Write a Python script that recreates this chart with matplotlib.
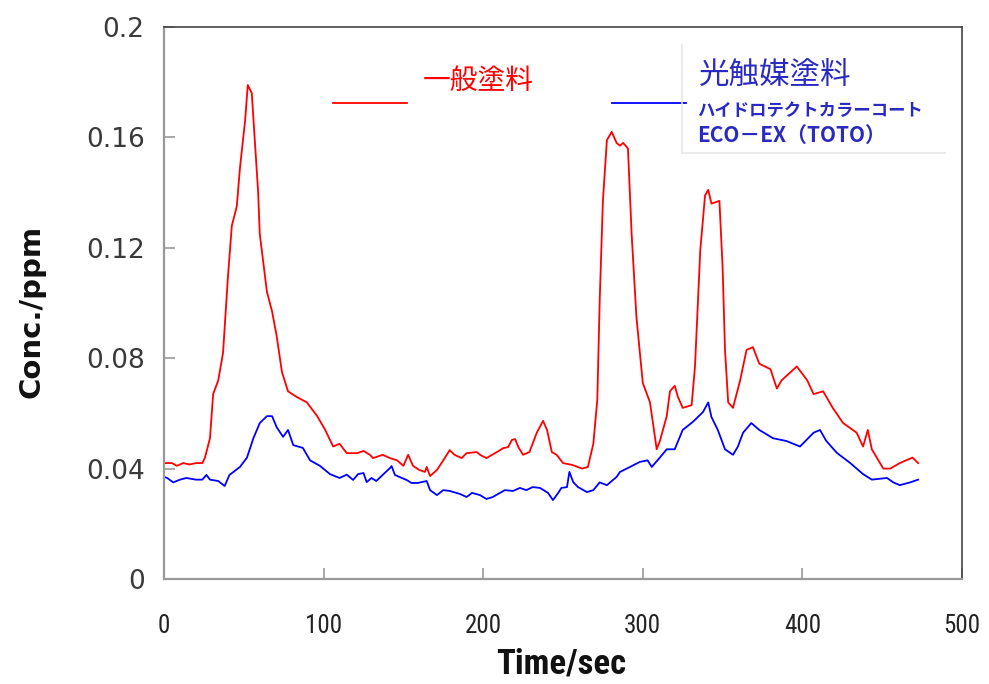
import matplotlib
matplotlib.use("Agg")
import matplotlib.pyplot as plt
from matplotlib import font_manager

# --- data -----------------------------------------------------------------
red_time = [0, 5, 8, 12, 16, 20, 24, 25.7, 28.8, 30.8, 34, 37, 40, 42.5, 45.6,
            47.6, 50.8, 52.5, 55, 57, 59, 60, 64.5, 67.7, 70.6, 73.9, 77.7, 83,
            89.5, 96, 101, 106, 110, 114.5, 121, 125, 129, 131, 137, 141.6, 146,
            150, 153, 156, 160, 163.5, 164.6, 166.7, 171, 175, 179, 182, 186.5,
            189.6, 196, 198, 202, 208.6, 212.5, 215.6, 218, 220, 222, 225, 229,
            233.5, 237.5, 240, 243, 246, 250, 256, 262, 265.6, 269, 271.5, 273,
            275, 277.5, 280.5, 283.6, 285.7, 287.7, 290.7, 293, 296, 300, 304.5,
            308.7, 310.7, 315, 317, 320, 322, 325, 330.6, 332.7, 336, 339, 341,
            343, 348, 350, 351.5, 353.5, 356.5, 361, 365, 369, 373, 380, 384, 387,
            396.5, 403, 407, 413, 419, 425.5, 434, 438, 441, 443.5, 450.7, 455,
            461, 469, 472.5]
red_conc = [0.042, 0.042, 0.041, 0.042, 0.0415, 0.042, 0.042, 0.044, 0.051, 0.067,
            0.072, 0.082, 0.109, 0.128, 0.135, 0.149, 0.166, 0.179, 0.176, 0.158,
            0.140, 0.125, 0.104, 0.097, 0.088, 0.075, 0.068, 0.066, 0.064, 0.059,
            0.054, 0.048, 0.049, 0.0456, 0.0456, 0.0464, 0.045, 0.0438, 0.045,
            0.0438, 0.043, 0.041, 0.045, 0.041, 0.0395, 0.0388, 0.0406, 0.0373,
            0.0395, 0.043, 0.0467, 0.045, 0.0438, 0.0456, 0.046, 0.045, 0.0438,
            0.046, 0.0474, 0.0478, 0.0504, 0.0507, 0.0478, 0.045, 0.046, 0.0529,
            0.0573, 0.054, 0.046, 0.045, 0.042, 0.0413, 0.040, 0.0406, 0.049,
            0.065, 0.101, 0.137, 0.159, 0.162, 0.158, 0.157, 0.158, 0.156, 0.125,
            0.095, 0.071, 0.064, 0.047, 0.050, 0.059, 0.068, 0.070, 0.066, 0.062,
            0.063, 0.077, 0.119, 0.139, 0.141, 0.136, 0.137, 0.113, 0.083, 0.064,
            0.062, 0.072, 0.083, 0.084, 0.078, 0.076, 0.069, 0.072, 0.077, 0.072,
            0.067, 0.068, 0.062, 0.0565, 0.053, 0.048, 0.054, 0.047, 0.040, 0.040,
            0.042, 0.044, 0.042]

blue_time = [0, 2, 5.8, 10, 14, 20, 24, 26.6, 28.8, 34, 38, 41, 47.6, 52, 56, 60,
             64.5, 67.7, 70.6, 74.6, 77.7, 81, 87, 91.5, 97.7, 104, 110, 114.5,
             118.5, 121.6, 125, 127, 130, 133, 137, 141.6, 142.6, 144.7, 149, 152,
             155, 159, 164.6, 166.7, 171, 175, 179, 185.5, 189.6, 193, 198, 202,
             206, 210.5, 213.6, 218.7, 223, 227, 231, 235.6, 240.6, 243.7, 247,
             249, 252.5, 254, 256.4, 259.4, 265, 269, 273, 277.5, 283.6, 285.7,
             292, 298, 303, 305.6, 310.7, 315, 320, 325, 331.5, 337.7, 341, 343,
             347, 351.5, 356.5, 359.6, 362.8, 368, 373, 381.6, 390, 398.5, 407,
             411, 415, 421.6, 430, 438, 443.5, 453, 457, 461, 467.5, 472.5]
blue_conc = [0.037, 0.0366, 0.035, 0.036, 0.0366, 0.036, 0.036, 0.0377, 0.036,
             0.0355, 0.0337, 0.0377, 0.0406, 0.044, 0.051, 0.0565, 0.059, 0.059,
             0.055, 0.0515, 0.054, 0.0485, 0.0475, 0.043, 0.041, 0.038, 0.0366,
             0.0378, 0.0359, 0.038, 0.0384, 0.0351, 0.0366, 0.0355, 0.0377,
             0.0402, 0.0409, 0.0377, 0.0366, 0.0359, 0.0348, 0.0348, 0.0355,
             0.0322, 0.0304, 0.0322, 0.0319, 0.0308, 0.0297, 0.0312, 0.0304,
             0.029, 0.0297, 0.0312, 0.0322, 0.0319, 0.033, 0.0322, 0.0333, 0.033,
             0.0312, 0.0286, 0.0312, 0.033, 0.0333, 0.0388, 0.0351, 0.0333,
             0.0315, 0.0322, 0.035, 0.034, 0.037, 0.0388, 0.0406, 0.0424, 0.043,
             0.0406, 0.044, 0.047, 0.047, 0.054, 0.057, 0.0605, 0.064, 0.0587,
             0.054, 0.047, 0.045, 0.048, 0.053, 0.0565, 0.054, 0.051, 0.050,
             0.048, 0.053, 0.054, 0.050, 0.0457, 0.042, 0.038, 0.036, 0.0366,
             0.035, 0.034, 0.035, 0.036]

x_ticks = [0, 100, 200, 300, 400, 500]
y_ticks = [0, 0.04, 0.08, 0.12, 0.16, 0.2]
y_tick_labels = ["0", "0.04", "0.08", "0.12", "0.16", "0.2"]

label_red = "一般塗料"
label_blue = "光触媒塗料"
label_blue_sub1 = "ハイドロテクトカラーコート"
label_blue_sub2 = "ECO－EX（TOTO）"

# --- fonts ----------------------------------------------------------------
available = {f.name for f in font_manager.fontManager.ttflist}


def pick(*names):
    for n in names:
        if n in available:
            return n
    return "DejaVu Sans"


narrow = pick("Liberation Sans Narrow", "Roboto Condensed", "DejaVu Sans Condensed")
cjk = ["Noto Sans CJK JP", "DejaVu Sans"]

# --- figure ---------------------------------------------------------------
W, H = 989, 684
X0, X1, Y0, Y1 = 164, 962, 579, 27   # pixel frame of the plotting area

fig = plt.figure(figsize=(W / 100, H / 100), dpi=100)
ax = fig.add_axes([X0 / W, 1 - Y0 / H, (X1 - X0) / W, (Y0 - Y1) / H])

ax.plot(red_time, red_conc, color="#ff0000", lw=1.3, solid_joinstyle="round")
ax.plot(blue_time, blue_conc, color="#0000ff", lw=1.3, solid_joinstyle="round")

ax.set_xlim(0, 500)
ax.set_ylim(0, 0.2)
ax.set_xticks(x_ticks)
ax.set_xticklabels([str(v) for v in x_ticks], fontfamily=narrow, fontsize=18,
                   color="#222222")
ax.set_yticks(y_ticks)
ax.set_yticklabels(y_tick_labels, fontfamily="DejaVu Sans", fontsize=19,
                   color="#3a3a3a")
ax.tick_params(axis="both", direction="in", length=8, width=1.2, color="#999999")
ax.tick_params(axis="x", pad=25)
ax.tick_params(axis="y", pad=14)

for side in ("left", "bottom"):
    ax.spines[side].set_color("#999999")
    ax.spines[side].set_linewidth(1.6)
for side in ("top", "right"):
    ax.spines[side].set_color("#444444")
    ax.spines[side].set_linewidth(1.2)


def fx(px):
    return (px - X0) / (X1 - X0)


def fy(py):
    return (Y0 - py) / (Y0 - Y1)


ax.set_xlabel("Time/sec", fontfamily=narrow, fontweight="bold", fontsize=25,
              color="#111111")
ax.xaxis.set_label_coords(fx(561), fy(648))
ax.set_ylabel("Conc./ppm", fontfamily="DejaVu Sans", fontweight="bold",
              fontsize=21, color="#111111")
ax.yaxis.set_label_coords(fx(46), fy(311))

# --- legend keys and captions ---------------------------------------------
ax.plot([fx(333), fx(407)], [fy(102.5)] * 2, transform=ax.transAxes,
        color="#ff0000", lw=1.3, clip_on=False)
ax.plot([fx(612), fx(686)], [fy(102.5)] * 2, transform=ax.transAxes,
        color="#0000ff", lw=1.3, clip_on=False)

# faint outline of the caption box
ax.plot([fx(682), fx(682), fx(945)], [fy(45), fy(153), fy(153)],
        transform=ax.transAxes, color="#e8e8e8", lw=1.2, clip_on=False)

ax.text(fx(423), fy(81), label_red, transform=ax.transAxes, family=cjk,
        fontsize=20, color="#ff0000", ha="left", va="center")
ax.text(fx(699), fy(75), label_blue, transform=ax.transAxes, family=cjk,
        fontsize=22, color="#2a2ac0", ha="left", va="center")
ax.text(fx(697), fy(111), label_blue_sub1, transform=ax.transAxes, family=cjk,
        fontsize=12.5, fontweight="bold", color="#2a2ac0", ha="left",
        va="center")
ax.text(fx(697), fy(135), label_blue_sub2, transform=ax.transAxes, family=cjk,
        fontsize=15, fontweight="bold", color="#2a2ac0", ha="left",
        va="center")

fig.savefig("out.png", dpi=100)
